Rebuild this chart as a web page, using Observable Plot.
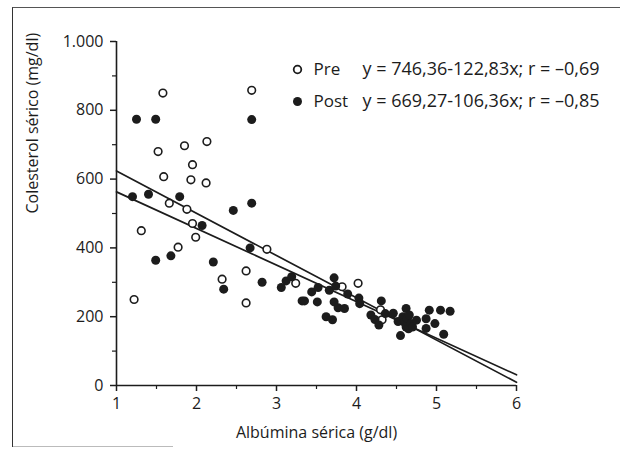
<!DOCTYPE html>
<html><head><meta charset="utf-8">
<script src="https://cdn.jsdelivr.net/npm/d3@7"></script>
<script src="https://cdn.jsdelivr.net/npm/@observablehq/plot@0.6"></script>
<style>
body{margin:0;background:#fff;}
#wrap{position:relative;width:620px;height:449px;overflow:hidden;background:#fff;}
#frame{position:absolute;left:12px;top:7px;width:620px;height:439px;border-left:1.5px solid #333;border-top:1.5px solid #555;}
#bottom{position:absolute;left:13px;top:446px;width:160px;height:0;border-top:1px solid #bbb;}
#wrap svg{position:absolute;left:0;top:0;}
</style></head><body><div id="wrap"><div id="frame"></div><div id="bottom"></div></div>
<script>
// Pre (open circles)
const preX = [1.22,1.31,1.58,1.52,1.59,1.66,1.77,1.85,1.88,1.93,1.95,1.95,1.99,2.13,2.12,2.32,2.62,2.62,2.69,2.88,3.24,3.82,4.02,4.30,4.32];
const preY = [250,450,850,680,607,530,402,697,512,598,642,471,431,709,589,309,240,333,858,396,297,287,297,220,191];
// Post (filled circles)
const postX = [1.20,1.25,1.40,1.49,1.49,1.68,1.79,2.07,2.21,2.34,2.46,2.67,2.69,2.69,2.82,3.06,3.12,3.19,3.32,3.35,3.44,3.51,3.52,3.62,3.66,3.70,3.72,3.72,3.74,3.77,3.85,3.89,4.03,4.04,4.18,4.23,4.28,4.31,4.36,4.46,4.52,4.55,4.58,4.60,4.62,4.62,4.63,4.65,4.66,4.68,4.70,4.75,4.87,4.87,4.91,4.98,5.05,5.09,5.17];
const postY = [549,774,556,774,364,377,549,465,359,280,509,400,773,530,300,285,304,316,246,246,272,243,285,200,277,191,313,243,289,226,224,266,254,238,205,192,176,246,209,210,186,145,200,184,224,170,195,165,205,180,170,190,194,166,219,180,219,149,216];
// Regression lines
const seriesNames = ["Pre","Post"];
const intercepts = [746.36, 669.27];
const slopes = [-122.83, -106.36];
const equations = ["y = 746,36-122,83x; r = \u20130,69", "y = 669,27-106,36x; r = \u20130,85"];
const lineXRange = [1, 6];
// Axes
const yTicks = [0,200,400,600,800,1000];
const yTickLabels = ["0","200","400","600","800","1.000"];
const yMinor = [100,300,500,700,900];
const xTicks = [1,2,3,4,5,6];
const xMinor = [1.5,2.5,3.5,4.5,5.5];
const xTitle = "Albúmina sérica (g/dl)";
const yTitle = "Colesterol sérico (mg/dl)";

const pre = preX.map((x,i)=>({x, y: preY[i]}));
const post = postX.map((x,i)=>({x, y: postY[i]}));
const fits = seriesNames.flatMap((s,k)=>lineXRange.map(x=>({s, x, y: intercepts[k] + slopes[k]*x})));

const ink = "#1c1c1c";
const chart = Plot.plot({
  width: 620, height: 449,
  marginLeft: 116, marginRight: 104, marginTop: 41, marginBottom: 64,
  style: {fontFamily: "'Open Sans', sans-serif", fontSize: "16px", color: ink, background: "transparent", overflow: "visible"},
  x: {domain: [1, 6], label: null},
  y: {domain: [0, 1000], label: null},
  marks: [
    Plot.axisY(yTicks, {tickSize: 6, tickPadding: 7, strokeWidth: 1.5, tickFormat: d => yTickLabels[yTicks.indexOf(d)], label: null}),
    Plot.axisY(yMinor, {tickSize: 4, strokeWidth: 1.2, tickFormat: () => "", label: null}),
    Plot.axisX(xTicks, {tickSize: 6, tickPadding: 6, strokeWidth: 1.5, label: null}),
    Plot.axisX(xMinor, {tickSize: 4, strokeWidth: 1.2, tickFormat: () => "", label: null}),
    Plot.ruleX([1], {y1: 0, y2: 1000, stroke: ink, strokeWidth: 1.6}),
    Plot.ruleY([0], {x1: 1, x2: 6, stroke: ink, strokeWidth: 1.6}),
    Plot.line(fits, {x: "x", y: "y", z: "s", stroke: ink, strokeWidth: 1.7}),
    Plot.dot(pre, {x: "x", y: "y", r: 3.8, fill: "white", stroke: ink, strokeWidth: 1.6}),
    Plot.dot(post, {x: "x", y: "y", r: 4.5, fill: ink, stroke: "none"}),
    // axis titles
    Plot.text([yTitle], {frameAnchor: "left", rotate: -90, dx: -84, lineAnchor: "middle", fill: ink, fontSize: 16}),
    Plot.text([xTitle], {frameAnchor: "bottom", dy: 47, lineAnchor: "middle", fill: ink, fontSize: 16}),
    // legend
    Plot.dot([0], {frameAnchor: "top-left", dx: 181, dy: 28, r: 3.8, fill: "white", stroke: ink, strokeWidth: 1.8}),
    Plot.dot([0], {frameAnchor: "top-left", dx: 181, dy: 60, r: 4.5, fill: ink}),
    Plot.text([seriesNames[0]], {frameAnchor: "top-left", dx: 197, dy: 28, lineAnchor: "middle", textAnchor: "start", fill: ink, fontSize: 17}),
    Plot.text([seriesNames[1]], {frameAnchor: "top-left", dx: 197, dy: 60, lineAnchor: "middle", textAnchor: "start", fill: ink, fontSize: 17}),
    Plot.text([equations[0]], {frameAnchor: "top-left", dx: 246, dy: 28, lineAnchor: "middle", textAnchor: "start", fill: ink, fontSize: 18}),
    Plot.text([equations[1]], {frameAnchor: "top-left", dx: 246, dy: 60, lineAnchor: "middle", textAnchor: "start", fill: ink, fontSize: 18})
  ]
});
document.getElementById("wrap").appendChild(chart);
</script>
</body></html>
